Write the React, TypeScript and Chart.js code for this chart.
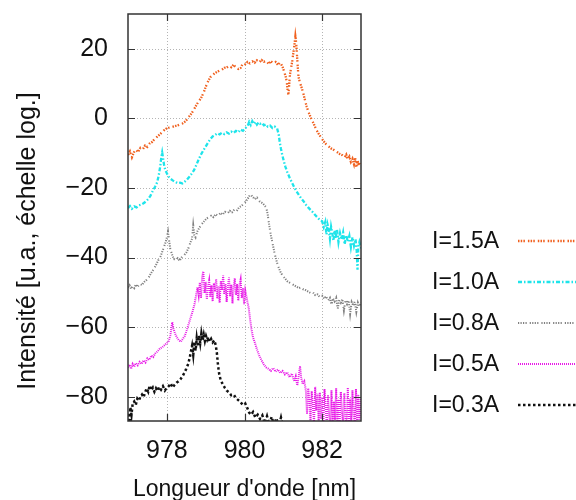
import React, { useEffect, useRef } from "react";
import { Chart, registerables } from "chart.js";

Chart.register(...registerables);

const seriesLabels = ["I=1.5A", "I=1.0A", "I=0.8A", "I=0.5A", "I=0.3A"];
const xTickValues = [978, 980, 982];
const yTickValues = [-80, -60, -40, -20, 0, 20];
const xTitle = "Longueur d'onde [nm]";
const yTitle = "Intensité [u.a., échelle log.]";

const wl15 = [977.0, 977.05, 977.1, 977.15, 977.2, 977.26, 977.32, 977.38, 977.44, 977.5, 977.56, 977.62, 977.68, 977.74, 977.8, 977.86, 977.92, 977.98, 978.04, 978.1, 978.16, 978.22, 978.28, 978.34, 978.4, 978.46, 978.52, 978.58, 978.64, 978.7, 978.76, 978.82, 978.88, 978.94, 979.0, 979.06, 979.12, 979.18, 979.24, 979.3, 979.36, 979.42, 979.48, 979.54, 979.6, 979.66, 979.72, 979.78, 979.84, 979.9, 979.96, 980.02, 980.08, 980.14, 980.2, 980.26, 980.32, 980.38, 980.44, 980.5, 980.56, 980.62, 980.68, 980.74, 980.8, 980.86, 980.92, 980.98, 981.02, 981.06, 981.09, 981.11, 981.13, 981.15, 981.17, 981.2, 981.23, 981.26, 981.29, 981.31, 981.33, 981.35, 981.37, 981.39, 981.42, 981.46, 981.5, 981.55, 981.6, 981.65, 981.7, 981.75, 981.8, 981.86, 981.92, 981.98, 982.04, 982.1, 982.16, 982.22, 982.28, 982.34, 982.4, 982.46, 982.52, 982.58, 982.62, 982.66, 982.7, 982.74, 982.78, 982.82, 982.85, 982.88, 982.91, 982.94, 982.97, 983.0];
const int15 = [-10.5, -9.5, -11.2, -9.8, -9.0, -9.6, -8.5, -8.9, -7.8, -8.2, -7.2, -6.8, -6.0, -5.4, -4.8, -4.2, -3.5, -3.0, -2.7, -2.6, -2.4, -2.2, -2.0, -1.7, -1.5, -1.0, -0.3, 0.6, 1.5, 2.6, 3.8, 4.9, 5.8, 7.2, 9.0, 10.6, 11.8, 12.5, 13.0, 13.4, 13.8, 14.0, 14.5, 14.6, 15.1, 14.7, 15.4, 14.6, 14.2, 14.5, 15.8, 15.6, 16.2, 15.8, 16.4, 16.0, 16.7, 16.1, 16.8, 16.3, 16.5, 15.7, 16.4, 15.9, 16.2, 15.4, 16.1, 14.8, 13.5, 12.0, 10.5, 8.0, 6.8, 9.5, 12.5, 14.5, 16.5, 19.0, 21.5, 23.6, 21.8, 18.5, 15.0, 12.0, 10.6, 9.2, 7.8, 5.6, 3.4, 1.8, 0.4, -0.8, -2.0, -3.5, -4.6, -5.6, -6.6, -7.4, -8.0, -8.6, -8.9, -9.4, -9.8, -10.3, -10.6, -11.2, -10.4, -11.8, -11.0, -12.5, -11.6, -13.2, -11.4, -14.0, -12.0, -13.5, -12.4, -13.0];

const wl10 = [977.0, 977.05, 977.1, 977.16, 977.22, 977.28, 977.34, 977.4, 977.46, 977.52, 977.58, 977.64, 977.7, 977.75, 977.79, 977.83, 977.86, 977.88, 977.9, 977.93, 977.96, 978.0, 978.05, 978.1, 978.16, 978.22, 978.28, 978.34, 978.4, 978.46, 978.52, 978.58, 978.64, 978.7, 978.76, 978.82, 978.88, 978.94, 979.0, 979.06, 979.12, 979.18, 979.24, 979.3, 979.36, 979.42, 979.48, 979.54, 979.6, 979.66, 979.72, 979.78, 979.84, 979.9, 979.96, 980.02, 980.08, 980.12, 980.16, 980.2, 980.24, 980.28, 980.32, 980.36, 980.4, 980.45, 980.5, 980.55, 980.6, 980.66, 980.72, 980.78, 980.84, 980.88, 980.91, 980.94, 980.97, 981.01, 981.05, 981.1, 981.16, 981.22, 981.28, 981.34, 981.4, 981.46, 981.52, 981.58, 981.64, 981.7, 981.76, 981.82, 981.88, 981.94, 982.0, 982.04, 982.08, 982.11, 982.14, 982.17, 982.2, 982.23, 982.26, 982.29, 982.32, 982.35, 982.38, 982.42, 982.46, 982.5, 982.54, 982.58, 982.62, 982.66, 982.7, 982.74, 982.78, 982.82, 982.86, 982.89, 982.91, 982.93, 982.96, 983.0];
const int10 = [-25.8, -25.2, -26.0, -25.3, -25.6, -25.0, -24.8, -24.4, -23.9, -23.2, -22.2, -20.8, -19.6, -18.4, -16.5, -13.8, -11.0, -9.8, -11.2, -13.5, -14.8, -15.8, -16.8, -17.4, -17.9, -18.3, -18.6, -18.5, -18.7, -18.2, -17.6, -16.8, -15.9, -14.9, -13.4, -11.8, -10.4, -9.2, -8.1, -7.0, -6.0, -5.2, -4.8, -4.3, -4.6, -4.1, -4.5, -4.0, -4.4, -3.8, -4.2, -3.6, -4.0, -3.2, -3.6, -2.8, -2.2, -1.0, -1.9, -0.8, -1.6, -1.0, -1.8, -1.2, -1.6, -1.3, -2.0, -1.7, -2.4, -2.1, -2.8, -2.4, -2.9, -4.6, -7.0, -8.8, -10.4, -12.2, -13.8, -15.4, -17.0, -18.4, -19.8, -21.0, -22.0, -23.0, -23.8, -24.8, -25.6, -26.3, -27.0, -27.8, -28.5, -29.2, -29.6, -31.2, -29.8, -33.4, -30.6, -32.0, -34.6, -31.2, -33.0, -35.2, -32.2, -34.6, -31.8, -35.6, -33.0, -34.8, -32.8, -36.2, -33.6, -35.4, -33.8, -37.0, -34.2, -36.6, -34.8, -38.2, -43.5, -37.0, -35.6, -37.4];

const wl08 = [977.0, 977.04, 977.08, 977.12, 977.16, 977.2, 977.25, 977.3, 977.36, 977.42, 977.48, 977.54, 977.6, 977.66, 977.72, 977.78, 977.84, 977.9, 977.95, 977.99, 978.03, 978.06, 978.09, 978.13, 978.18, 978.23, 978.28, 978.33, 978.38, 978.44, 978.5, 978.56, 978.61, 978.65, 978.68, 978.71, 978.74, 978.78, 978.84, 978.9, 978.96, 979.02, 979.08, 979.14, 979.2, 979.26, 979.32, 979.38, 979.44, 979.5, 979.56, 979.62, 979.68, 979.74, 979.8, 979.86, 979.92, 979.98, 980.04, 980.1, 980.15, 980.2, 980.26, 980.32, 980.38, 980.44, 980.5, 980.56, 980.6, 980.64, 980.68, 980.72, 980.77, 980.82, 980.87, 980.92, 980.98, 981.04, 981.1, 981.16, 981.22, 981.28, 981.34, 981.4, 981.46, 981.52, 981.58, 981.64, 981.7, 981.76, 981.82, 981.88, 981.94, 982.0, 982.05, 982.1, 982.15, 982.2, 982.24, 982.28, 982.32, 982.36, 982.4, 982.44, 982.48, 982.52, 982.56, 982.6, 982.64, 982.68, 982.72, 982.76, 982.8, 982.84, 982.88, 982.92, 982.96, 983.0];
const int08 = [-48.6, -48.0, -49.0, -48.2, -48.8, -47.8, -48.4, -47.6, -47.9, -47.0, -46.4, -45.6, -44.4, -43.4, -42.2, -40.8, -39.6, -37.8, -36.2, -34.8, -32.6, -35.2, -37.6, -39.0, -40.4, -40.8, -40.2, -40.9, -40.0, -39.4, -38.6, -37.2, -35.6, -34.6, -30.8, -33.6, -34.2, -32.6, -31.4, -30.4, -29.6, -28.8, -28.4, -28.0, -28.4, -27.6, -28.0, -27.2, -27.6, -26.9, -27.4, -26.6, -27.0, -26.2, -26.6, -25.6, -25.2, -24.6, -23.8, -22.8, -21.8, -22.4, -23.2, -22.8, -23.8, -24.2, -24.8, -25.6, -27.8, -31.0, -33.6, -35.8, -38.6, -40.8, -42.6, -44.0, -45.2, -46.0, -46.8, -47.2, -47.6, -48.0, -48.4, -48.8, -48.6, -49.2, -49.4, -49.8, -50.2, -50.0, -50.8, -50.6, -51.4, -51.0, -51.8, -51.2, -52.4, -51.6, -53.6, -51.8, -52.6, -51.6, -54.8, -52.2, -53.0, -52.0, -55.2, -52.4, -53.4, -52.2, -56.2, -52.8, -53.8, -52.6, -55.6, -53.0, -54.2, -53.0];

const wl05 = [977.0, 977.04, 977.08, 977.12, 977.16, 977.2, 977.25, 977.3, 977.35, 977.4, 977.45, 977.5, 977.55, 977.6, 977.65, 977.7, 977.76, 977.82, 977.88, 977.94, 978.0, 978.05, 978.09, 978.12, 978.14, 978.17, 978.21, 978.26, 978.31, 978.36, 978.41, 978.46, 978.51, 978.56, 978.61, 978.66, 978.71, 978.75, 978.79, 978.82, 978.85, 978.88, 978.91, 978.94, 978.97, 979.0, 979.03, 979.06, 979.09, 979.12, 979.15, 979.18, 979.21, 979.24, 979.27, 979.3, 979.33, 979.36, 979.39, 979.42, 979.45, 979.48, 979.51, 979.54, 979.57, 979.6, 979.63, 979.66, 979.69, 979.72, 979.75, 979.78, 979.81, 979.84, 979.87, 979.9, 979.93, 979.96, 979.99, 980.02, 980.05, 980.08, 980.11, 980.14, 980.18, 980.22, 980.27, 980.32, 980.38, 980.44, 980.5, 980.56, 980.62, 980.68, 980.74, 980.8, 980.86, 980.92, 980.98, 981.04, 981.1, 981.16, 981.22, 981.28, 981.32, 981.36, 981.4, 981.43, 981.46, 981.5, 981.54, 981.58, 981.61, 981.64, 981.67, 981.7, 981.73, 981.76, 981.79, 981.82, 981.85, 981.88, 981.91, 981.94, 981.97, 982.0, 982.03, 982.06, 982.09, 982.12, 982.15, 982.18, 982.21, 982.24, 982.27, 982.3, 982.33, 982.36, 982.39, 982.42, 982.45, 982.48, 982.51, 982.54, 982.57, 982.6, 982.63, 982.66, 982.69, 982.72, 982.75, 982.78, 982.81, 982.84, 982.87, 982.9, 982.93, 982.96, 983.0];
const int05 = [-71.6, -70.8, -72.0, -70.6, -71.4, -70.4, -71.0, -70.0, -70.6, -69.6, -70.2, -69.0, -69.4, -68.2, -68.6, -67.6, -67.0, -66.2, -65.8, -65.2, -64.6, -64.0, -62.4, -60.0, -58.6, -60.4, -61.8, -63.0, -63.8, -64.2, -63.4, -62.6, -61.0, -59.2, -57.4, -55.6, -53.6, -51.0, -48.6, -50.8, -47.2, -51.6, -45.6, -44.0, -50.2, -47.0, -52.0, -48.4, -46.6, -51.4, -48.0, -52.6, -47.4, -49.8, -46.2, -51.8, -48.2, -53.0, -46.8, -49.4, -45.2, -50.6, -47.6, -52.8, -48.6, -45.8, -51.2, -47.8, -53.2, -48.4, -46.0, -50.8, -47.6, -52.4, -48.0, -46.4, -51.6, -48.8, -53.4, -49.6, -51.2, -53.0, -54.6, -57.4, -60.6, -63.0, -64.6, -66.4, -68.2, -69.6, -70.8, -71.6, -72.0, -72.6, -71.8, -72.8, -72.2, -73.2, -72.6, -73.6, -73.0, -74.4, -73.4, -75.6, -74.2, -76.8, -73.8, -71.2, -74.6, -76.4, -75.6, -78.2, -85.0, -77.6, -80.6, -88.0, -78.4, -82.6, -88.0, -77.2, -84.0, -79.2, -88.0, -78.8, -86.4, -80.2, -88.0, -77.8, -83.4, -88.0, -79.6, -85.6, -88.0, -78.2, -88.0, -81.4, -86.8, -77.6, -88.0, -80.8, -88.0, -78.6, -84.8, -88.0, -79.0, -86.0, -88.0, -77.4, -88.0, -80.6, -88.0, -78.2, -85.4, -88.0, -77.8, -88.0, -79.4, -86.6, -80.0];

const wl03 = [977.0, 977.02, 977.04, 977.06, 977.09, 977.12, 977.16, 977.2, 977.24, 977.28, 977.32, 977.36, 977.4, 977.44, 977.48, 977.52, 977.56, 977.6, 977.64, 977.68, 977.72, 977.76, 977.8, 977.85, 977.9, 977.95, 978.0, 978.05, 978.1, 978.15, 978.2, 978.25, 978.3, 978.35, 978.4, 978.45, 978.5, 978.55, 978.59, 978.62, 978.65, 978.68, 978.71, 978.74, 978.77, 978.8, 978.83, 978.86, 978.89, 978.92, 978.95, 978.98, 979.01, 979.04, 979.07, 979.1, 979.14, 979.18, 979.22, 979.26, 979.29, 979.32, 979.35, 979.39, 979.44, 979.49, 979.54, 979.6, 979.66, 979.72, 979.78, 979.84, 979.9, 979.96, 980.02, 980.07, 980.12, 980.17, 980.22, 980.28, 980.34, 980.4, 980.46, 980.52, 980.58, 980.64, 980.7, 980.76, 980.82, 980.88, 980.94, 981.0, 981.06, 981.12];
const int03 = [-88.5, -84.6, -87.5, -83.0, -85.2, -82.0, -81.4, -82.4, -80.6, -81.2, -80.0, -79.4, -80.2, -78.8, -77.6, -78.6, -76.8, -78.2, -77.4, -78.6, -77.6, -78.4, -77.2, -78.0, -77.0, -78.2, -77.4, -77.0, -76.2, -77.4, -76.6, -76.0, -75.6, -75.0, -74.2, -73.2, -72.0, -70.6, -68.8, -67.0, -65.4, -68.0, -64.2, -66.8, -63.2, -65.6, -62.4, -64.6, -61.8, -63.8, -62.2, -64.0, -62.6, -63.6, -62.8, -64.2, -63.4, -64.4, -63.8, -65.2, -67.6, -71.2, -73.6, -75.4, -76.4, -77.4, -78.2, -78.8, -79.6, -79.4, -80.4, -81.0, -81.6, -82.4, -82.0, -83.2, -84.6, -85.2, -84.4, -86.0, -85.2, -86.4, -85.4, -87.6, -85.6, -88.0, -85.8, -88.2, -86.2, -88.6, -86.0, -88.8, -89.6, -90.0];

const FONT = "'Liberation Sans', Arial, Helvetica, sans-serif";

const toPoints = (xs: number[], ys: number[]) => xs.map((x, i) => ({ x, y: ys[i] }));

const seriesStyles = [
  { color: "#f0601e", width: 2.3, dash: [1.5, 1.2, 1.5, 1.2, 1.5, 3] },
  { color: "#1ee4ea", width: 2.3, dash: [4, 2, 1.5, 2] },
  { color: "#808080", width: 2, dash: [1.2, 1.3, 1.2, 1.3, 1.2, 1.3, 1.2, 3] },
  { color: "#e81ae8", width: 2, dash: [1, 1] },
  { color: "#111111", width: 2.5, dash: [2.5, 2.5] },
];

const decorPlugin = {
  id: "decor",
  beforeDatasetsDraw(chart: any) {
    const { ctx, chartArea: a, scales } = chart;
    ctx.save();
    ctx.strokeStyle = "#b4b4b4";
    ctx.lineWidth = 1;
    ctx.setLineDash([1, 2]);
    xTickValues.forEach((v) => {
      const px = Math.round(scales.x.getPixelForValue(v)) + 0.5;
      ctx.beginPath();
      ctx.moveTo(px, a.top);
      ctx.lineTo(px, a.bottom);
      ctx.stroke();
    });
    yTickValues.forEach((v) => {
      const py = Math.round(scales.y.getPixelForValue(v)) + 0.5;
      ctx.beginPath();
      ctx.moveTo(a.left, py);
      ctx.lineTo(a.right, py);
      ctx.stroke();
    });
    ctx.restore();
  },
  afterDatasetsDraw(chart: any) {
    const { ctx, chartArea: a, scales } = chart;
    ctx.save();
    ctx.strokeStyle = "#333";
    ctx.lineWidth = 1.5;
    ctx.setLineDash([]);
    ctx.strokeRect(a.left, a.top, a.right - a.left, a.bottom - a.top);
    const tl = 7;
    ctx.lineWidth = 1.2;
    xTickValues.forEach((v) => {
      const px = Math.round(scales.x.getPixelForValue(v)) + 0.5;
      ctx.beginPath();
      ctx.moveTo(px, a.bottom);
      ctx.lineTo(px, a.bottom - tl);
      ctx.moveTo(px, a.top);
      ctx.lineTo(px, a.top + tl);
      ctx.stroke();
    });
    yTickValues.forEach((v) => {
      const py = Math.round(scales.y.getPixelForValue(v)) + 0.5;
      ctx.beginPath();
      ctx.moveTo(a.left, py);
      ctx.lineTo(a.left + tl, py);
      ctx.moveTo(a.right, py);
      ctx.lineTo(a.right - tl, py);
      ctx.stroke();
    });

    ctx.fillStyle = "#111";
    // x title
    ctx.font = `23px ${FONT}`;
    ctx.textAlign = "center";
    ctx.textBaseline = "alphabetic";
    ctx.fillText(xTitle, (a.left + a.right) / 2, 496);
    // y title
    ctx.save();
    ctx.translate(35, 241);
    ctx.rotate(-Math.PI / 2);
    ctx.font = `25px ${FONT}`;
    ctx.textAlign = "center";
    ctx.textBaseline = "alphabetic";
    ctx.fillText(yTitle, 0, 0);
    ctx.restore();

    // legend
    ctx.font = `23px ${FONT}`;
    ctx.textAlign = "left";
    ctx.textBaseline = "middle";
    chart.data.datasets.forEach((ds: any, i: number) => {
      const y = 241 + i * 41;
      ctx.fillStyle = "#111";
      ctx.fillText(ds.label, 432, y + 1);
      ctx.strokeStyle = ds.borderColor;
      ctx.lineWidth = ds.borderWidth;
      ctx.setLineDash(ds.borderDash);
      ctx.beginPath();
      ctx.moveTo(518, y);
      ctx.lineTo(580, y);
      ctx.stroke();
    });
    ctx.restore();
  },
};

export default function App() {
  const canvasRef = useRef<HTMLCanvasElement>(null);
  useEffect(() => {
    const xs = [wl15, wl10, wl08, wl05, wl03];
    const ys = [int15, int10, int08, int05, int03];
    const chart = new Chart(canvasRef.current!, {
      type: "line",
      data: {
        datasets: seriesLabels.map((label, i) => ({
          label,
          data: toPoints(xs[i], ys[i]),
          borderColor: seriesStyles[i].color,
          borderWidth: seriesStyles[i].width,
          borderDash: seriesStyles[i].dash,
          pointRadius: 0,
          fill: false,
          tension: 0,
          clip: 0,
        })),
      },
      options: {
        responsive: false,
        animation: false,
        devicePixelRatio: 1,
        layout: { padding: { top: 14, right: 215, left: 0, bottom: 0 } },
        plugins: { legend: { display: false }, tooltip: { enabled: false } },
        scales: {
          x: {
            type: "linear",
            min: 977,
            max: 983,
            afterBuildTicks: (s: any) => {
              s.ticks = xTickValues.map((v) => ({ value: v }));
            },
            afterFit: (s: any) => {
              s.height = 79;
              s.paddingLeft = 0;
              s.paddingRight = 0;
            },
            grid: { display: false, drawTicks: false },
            border: { display: false },
            ticks: {
              autoSkip: false,
              maxRotation: 0,
              padding: 15,
              color: "#111",
              font: { family: FONT, size: 25 },
              callback: (v: any) => String(v),
            },
          },
          y: {
            type: "linear",
            min: -87,
            max: 30,
            afterBuildTicks: (s: any) => {
              s.ticks = yTickValues.map((v) => ({ value: v }));
            },
            afterFit: (s: any) => {
              s.width = 128;
              s.paddingTop = 0;
              s.paddingBottom = 0;
            },
            grid: { display: false, drawTicks: false },
            border: { display: false },
            ticks: {
              autoSkip: false,
              padding: 20,
              color: "#111",
              font: { family: FONT, size: 25 },
              callback: (v: any) => (v < 0 ? "\u2212" + Math.abs(v) : String(v)),
            },
          },
        },
      },
      plugins: [decorPlugin],
    } as any);
    return () => chart.destroy();
  }, []);
  return (
    <div style={{ position: "fixed", left: 0, top: 0, width: 576, height: 500, background: "#fff" }}>
      <canvas ref={canvasRef} width={576} height={500} style={{ display: "block" }} />
    </div>
  );
}
